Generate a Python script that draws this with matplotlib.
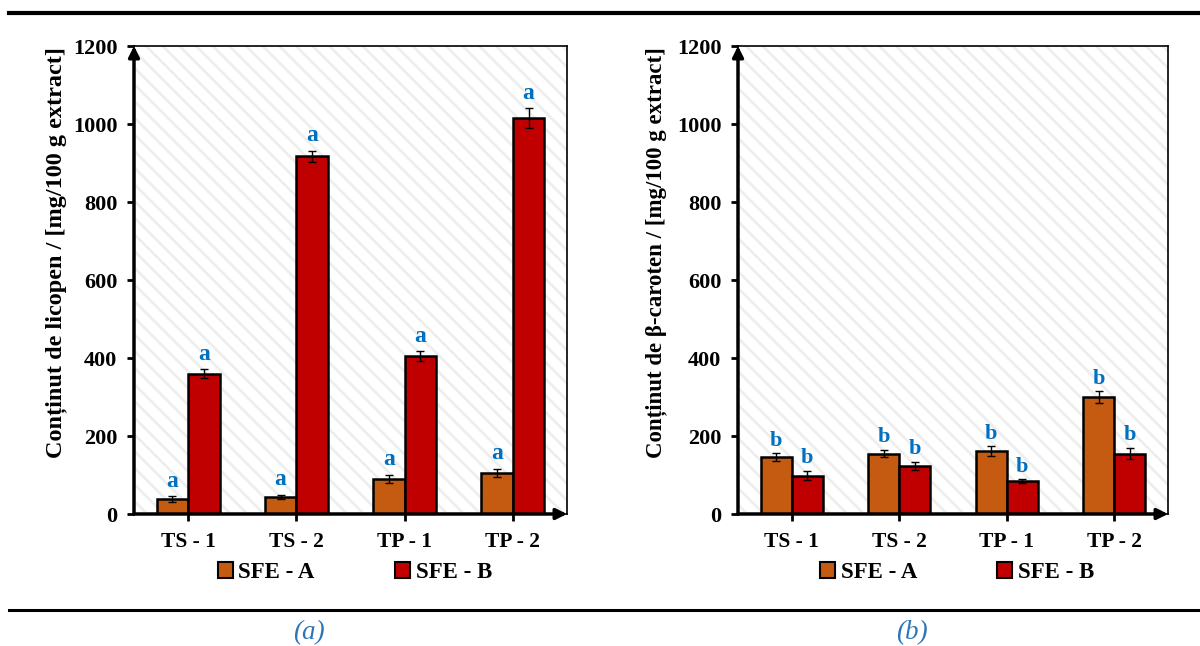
import numpy as np
import matplotlib
matplotlib.use("Agg")
import matplotlib.pyplot as plt
from matplotlib.lines import Line2D
from matplotlib.patches import Rectangle, Patch

plt.rcParams["font.family"] = ["Liberation Serif", "DejaVu Serif"]
plt.rcParams["font.weight"] = "bold"
plt.rcParams["hatch.linewidth"] = 2.0

categories = ["TS - 1", "TS - 2", "TP - 1", "TP - 2"]
series = ["SFE - A", "SFE - B"]

# (a) lycopene
lyc_a = [38, 44, 90, 105]
lyc_a_err = [7, 6, 10, 10]
lyc_b = [360, 917, 405, 1015]
lyc_b_err = [11, 15, 12, 25]
lyc_letters_a = ["a", "a", "a", "a"]
lyc_letters_b = ["a", "a", "a", "a"]

# (b) beta-carotene
car_a = [146, 155, 162, 300]
car_a_err = [10, 10, 12, 15]
car_b = [98, 123, 84, 155]
car_b_err = [12, 10, 5, 15]
car_letters_a = ["b", "b", "b", "b"]
car_letters_b = ["b", "b", "b", "b"]

yticks = [0, 200, 400, 600, 800, 1000, 1200]

C_A = "#C55A11"
C_B = "#C00000"
C_LET = "#0070C0"
C_CAP = "#2E75B6"

W, H = 1200, 646
fig = plt.figure(figsize=(12, 6.46), dpi=100)


def px_axes(l, r, t, b):
    return fig.add_axes([l / W, 1 - b / H, (r - l) / W, (b - t) / H])


def panel(ax, a, aerr, b, berr, la, lb, ylabel, label_x, label_size, let_size, let_off):
    x = np.arange(len(categories))
    bw = 0.29
    ax.add_patch(Rectangle((0, 0), 1, 1, transform=ax.transAxes, facecolor="white",
                           edgecolor="#EEEEEE", hatch="\\\\", lw=0, zorder=0))
    ax.bar(x - bw / 2, a, bw, color=C_A, edgecolor="black", lw=1.8, zorder=3,
           yerr=aerr, error_kw=dict(ecolor="black", elinewidth=1, capsize=3, capthick=1))
    ax.bar(x + bw / 2, b, bw, color=C_B, edgecolor="black", lw=1.8, zorder=3,
           yerr=berr, error_kw=dict(ecolor="black", elinewidth=1, capsize=3, capthick=1))
    for xi, v, e, t in zip(x - bw / 2, a, aerr, la):
        ax.annotate(t, (xi, v + e), xytext=(0, let_off), textcoords="offset points",
                    ha="center", va="baseline", color=C_LET, fontsize=let_size,
                    fontweight="bold")
    for xi, v, e, t in zip(x + bw / 2, b, berr, lb):
        ax.annotate(t, (xi, v + e), xytext=(0, let_off), textcoords="offset points",
                    ha="center", va="baseline", color=C_LET, fontsize=let_size,
                    fontweight="bold")
    ax.set_xlim(-0.5, 3.5)
    ax.set_ylim(0, 1200)
    ax.set_yticks(yticks)
    ax.set_xticks(x)
    ax.set_xticklabels(categories)
    ax.tick_params(axis="both", width=2, length=5, direction="out")
    ax.tick_params(axis="x", labelsize=15.5, pad=8)
    ax.tick_params(axis="y", labelsize=16, pad=7)
    for s in ax.spines.values():
        s.set_linewidth(1.2)
    ax.annotate("", xy=(0, 1), xytext=(0, 0), xycoords="axes fraction",
                arrowprops=dict(arrowstyle="-|>", lw=2.5, color="black",
                                mutation_scale=16, shrinkA=0, shrinkB=0), zorder=5)
    ax.annotate("", xy=(1, 0), xytext=(0, 0), xycoords="axes fraction",
                arrowprops=dict(arrowstyle="-|>", lw=2.5, color="black",
                                mutation_scale=16, shrinkA=0, shrinkB=0), zorder=5)
    ax.set_ylabel(ylabel, fontsize=label_size, fontweight="bold")
    ax.yaxis.set_label_coords(label_x, 0.558)
    handles = [Patch(facecolor=C_A, edgecolor="black", lw=1.5),
               Patch(facecolor=C_B, edgecolor="black", lw=1.5)]
    ax.legend(handles, series, loc="center", bbox_to_anchor=(0.51, -0.125), ncol=2,
              frameon=False, fontsize=16.5, handlelength=0.65, handleheight=0.65,
              handletextpad=0.25, columnspacing=3.5)


ax1 = px_axes(134, 567, 46, 514)
panel(ax1, lyc_a, lyc_a_err, lyc_b, lyc_b_err, lyc_letters_a, lyc_letters_b,
      "Conținut de licopen / [mg/100 g extract]", -0.154, 17.5, 17, 7)

ax2 = px_axes(738, 1168, 46, 514)
panel(ax2, car_a, car_a_err, car_b, car_b_err, car_letters_a, car_letters_b,
      "Conținut de β-caroten / [mg/100 g extract]", -0.165, 16.5, 16, 5.5)

fig.add_artist(Line2D([9 / W, 1], [1 - 13 / H] * 2, lw=3, color="black"))
fig.add_artist(Line2D([9 / W, 1], [1 - 610 / H] * 2, lw=2.2, color="black"))
fig.text(309 / W, 1 - 633 / H, "(a)", ha="center", va="center", fontsize=19.5,
         style="italic", fontweight="normal", color=C_CAP)
fig.text(912 / W, 1 - 633 / H, "(b)", ha="center", va="center", fontsize=19.5,
         style="italic", fontweight="normal", color=C_CAP)

fig.savefig("out.png", dpi=100)
